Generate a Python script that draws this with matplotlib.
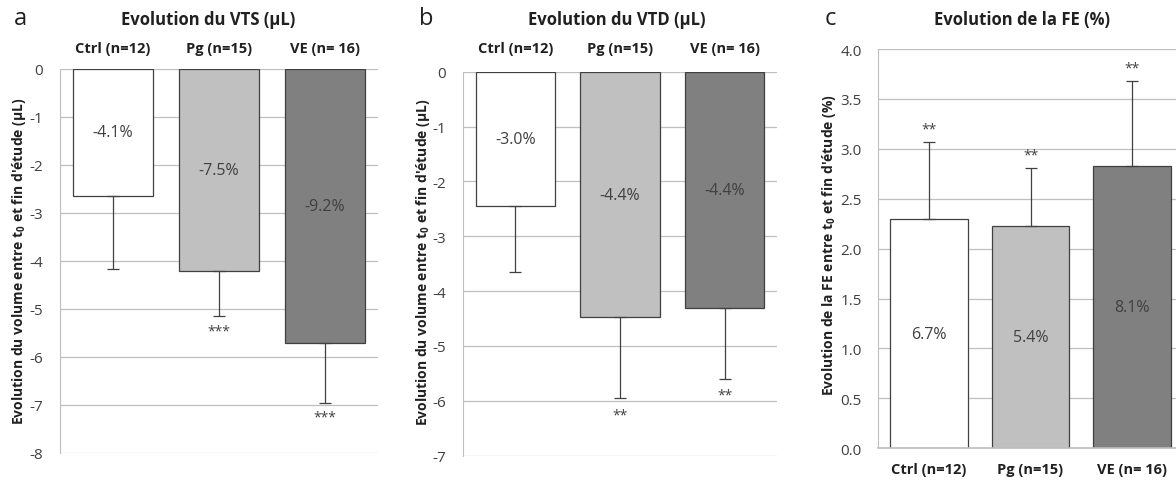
import matplotlib
matplotlib.use("Agg")
import matplotlib.pyplot as plt

plt.rcParams['font.family'] = ['Open Sans', 'DejaVu Sans']
plt.rcParams['mathtext.fontset'] = 'custom'
plt.rcParams['mathtext.rm'] = 'Open Sans:bold'
plt.rcParams['mathtext.bf'] = 'Open Sans:bold'

groups = ['Ctrl (n=12)', 'Pg (n=15)', 'VE (n= 16)']
colors = ['#FFFFFF', '#C0C0C0', '#808080']

# VTS
vts = [-2.64, -4.21, -5.71]
vts_err = [1.53, 0.94, 1.24]
vts_pct = ['-4.1%', '-7.5%', '-9.2%']
vts_sig = ['', '***', '***']

# VTD
vtd = [-2.45, -4.48, -4.30]
vtd_err = [1.21, 1.47, 1.30]
vtd_pct = ['-3.0%', '-4.4%', '-4.4%']
vtd_sig = ['', '**', '**']

# FE
fe = [2.30, 2.23, 2.83]
fe_err = [0.77, 0.58, 0.85]
fe_pct = ['6.7%', '5.4%', '8.1%']
fe_sig = ['**', '**', '**']

W, H = 1176, 481
fig = plt.figure(figsize=(W / 100, H / 100), dpi=100)

def px(x, y):
    return x / W, 1 - y / H

grid_c = '#BFBFBF'
txt_c = '#404040'

def panel(rect, vals, errs, pcts, sigs, ylim, ticks, fmt, sig_off):
    ax = fig.add_axes(rect)
    x = range(len(vals))
    ax.bar(x, vals, width=0.76, color=colors, edgecolor='#404040', linewidth=0.9, zorder=2)
    lower = [e if v < 0 else 0 for v, e in zip(vals, errs)]
    upper = [e if v > 0 else 0 for v, e in zip(vals, errs)]
    ax.errorbar(x, vals, yerr=[lower, upper], fmt='none', ecolor='#404040',
                elinewidth=0.9, capsize=4, capthick=0.9, zorder=3)
    for i, (v, e, p, s) in enumerate(zip(vals, errs, pcts, sigs)):
        ax.text(i, v / 2, p, ha='center', va='center', fontsize=11.5, color=txt_c, zorder=4)
        if s:
            tip = v - e if v < 0 else v + e
            yy = tip - sig_off if v < 0 else tip + sig_off
            ax.text(i, yy, s, ha='center', va='center', fontsize=10, color=txt_c)
    ax.set_xlim(-0.5, 2.5)
    ax.set_ylim(*ylim)
    ax.set_yticks(ticks)
    ax.set_yticklabels([fmt.format(t) for t in ticks], fontsize=11, color=txt_c)
    ax.tick_params(axis='y', length=0, pad=12)
    ax.set_xticks([])
    ax.yaxis.grid(True, color=grid_c, linewidth=0.9)
    ax.set_axisbelow(True)
    for sp in ['top', 'right', 'bottom']:
        ax.spines[sp].set_visible(False)
    ax.spines['left'].set_color(grid_c)
    return ax

# panel a
ax_a = panel([60 / W, 1 - 454 / H, 318 / W, 384 / H], vts, vts_err, vts_pct, vts_sig,
             (-8, 0), list(range(-8, 1)), '{:d}', 0.3)
# panel b
ax_b = panel([463 / W, 1 - 456.7 / H, 314 / W, 384 / H], vtd, vtd_err, vtd_pct, vtd_sig,
             (-7, 0), list(range(-7, 1)), '{:d}', 0.3)
# panel c
fe_ticks = [0.0, 0.5, 1.0, 1.5, 2.0, 2.5, 3.0, 3.5, 4.0]
ax_c = panel([878.3 / W, 1 - 449.3 / H, 304.5 / W, 399.3 / H], fe, fe_err, fe_pct, fe_sig,
             (0, 4), fe_ticks, '{:.1f}', 0.13)
ax_c.spines['bottom'].set_visible(True)
ax_c.spines['bottom'].set_color(grid_c)
ax_c.spines['bottom'].set_linewidth(1.2)

# titles and panel letters
for letter, lx, title, tx in [('a', 20, 'Evolution du VTS (µL)', 208),
                              ('b', 426, 'Evolution du VTD (µL)', 617),
                              ('c', 830, 'Evolution de la FE (%)', 1022)]:
    fig.text(*px(lx, 19), letter, ha='center', va='center', fontsize=17, color='#202020')
    fig.text(*px(tx, 20), title, ha='center', va='center', fontsize=12, fontweight='bold',
             color='#202020')

# category labels
for ax, y in [(ax_a, 49), (ax_b, 49), (ax_c, 470)]:
    for i, g in enumerate(groups):
        xd = ax.transData.transform((i, 0))[0]
        fig.text(xd / W, 1 - y / H, g, ha='center', va='center', fontsize=10.5,
                 fontweight='bold', color='#202020')

# y labels
ylab_vol = "Evolution du volume entre t$_0$ et fin d'étude (µL)"
ylab_fe = "Evolution de la FE entre t$_0$ et fin d'étude (%)"
fig.text(*px(19, 261), ylab_vol, rotation=90, ha='center', va='center', fontsize=10,
         fontweight='bold', color='#202020')
fig.text(*px(423, 262), ylab_vol, rotation=90, ha='center', va='center', fontsize=10,
         fontweight='bold', color='#202020')
fig.text(*px(829, 245), ylab_fe, rotation=90, ha='center', va='center', fontsize=10,
         fontweight='bold', color='#202020')

fig.savefig('out.png', dpi=100)
